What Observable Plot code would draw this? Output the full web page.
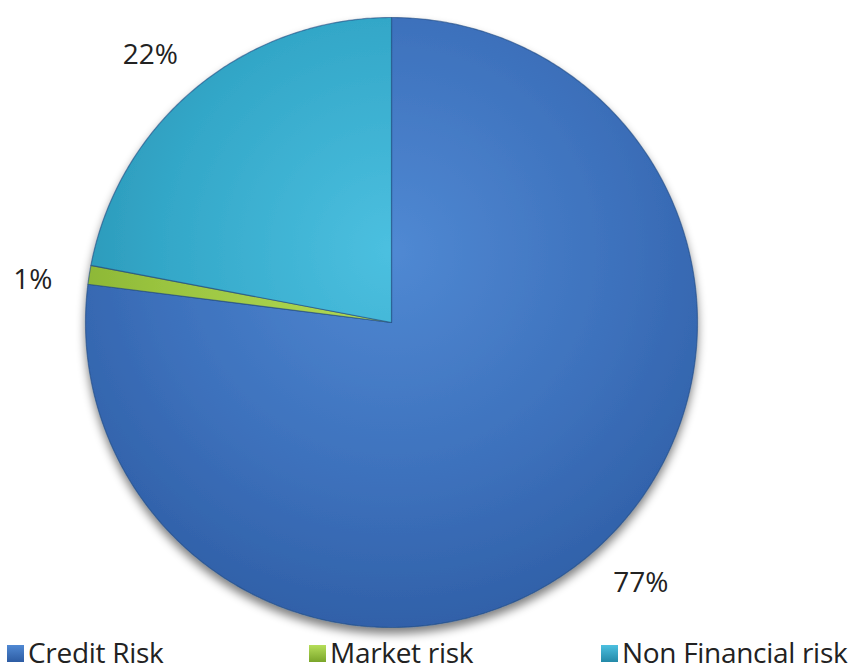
<!DOCTYPE html>
<html><head><meta charset="utf-8">
<script src="https://cdn.jsdelivr.net/npm/d3@7"></script>
<script src="https://cdn.jsdelivr.net/npm/@observablehq/plot@0.6"></script>
<style>
body{margin:0;background:#fff;font-family:"Open Sans",sans-serif;overflow:hidden;}
#legend{position:relative;height:37px;width:862px;font-family:"Open Sans",sans-serif;font-size:28px;line-height:34px;color:#222;}
.item{position:absolute;top:0px;display:flex;align-items:center;white-space:nowrap;letter-spacing:-0.3px}
.sw{width:17px;height:17px;margin-right:4px;margin-top:2px;}
</style></head><body>
<div id="chart"></div>
<div id="legend"></div>
<script>
const categories = ["Credit Risk", "Market risk", "Non Financial risk"];
const values = [77, 1, 22];
const labels = ["77%", "1%", "22%"];

const total = d3.sum(values);
const slices = [];
let acc = 0;
categories.forEach((c, i) => {
  const a0 = acc / total * 2 * Math.PI;
  acc += values[i];
  const a1 = acc / total * 2 * Math.PI;
  slices.push({c, i, a0, a1, v: values[i], label: labels[i]});
});
const pts = [];
slices.forEach(s => {
  pts.push({c: s.c, x: 0, y: 0});
  const n = Math.max(4, Math.ceil((s.a1 - s.a0) / 0.01));
  for (let k = 0; k <= n; k++) {
    const a = s.a0 + (s.a1 - s.a0) * k / n;
    pts.push({c: s.c, x: Math.sin(a), y: Math.cos(a)});
  }
  pts.push({c: s.c, x: 0, y: 0});
});
const labelPts = slices.map(s => {
  const m = (s.a0 + s.a1) / 2 - 0.04;
  return {label: s.label, x: 1.18 * Math.sin(m), y: 1.18 * Math.cos(m)};
});

const plot = Plot.plot({
  width: 862, height: 635,
  marginLeft: 85, marginRight: 165, marginTop: 17, marginBottom: 8,
  x: {domain: [-1, 1], axis: null},
  y: {domain: [-1, 1], axis: null},
  color: {domain: categories, range: categories.map((c, i) => `url(#g${i})`)},
  marks: [
    Plot.line(pts, {x: "x", y: "y", z: "c", fill: "c", stroke: "#1f4a80", strokeWidth: 1.2, strokeOpacity: 0.6, curve: "linear"}),
    Plot.text(labelPts, {x: "x", y: "y", text: "label", fontSize: 28, fill: "#222", fontFamily: "Open Sans"})
  ],
  style: {background: "#fff", overflow: "visible"}
});
const ns = "http://www.w3.org/2000/svg";
const defs = document.createElementNS(ns, "defs");
const stops = [["#5089d3", "#3d71bc", "#2d5ca3"], ["#b6de5a", "#9ac43f", "#7aa52a"], ["#4cc0e0", "#33a7c8", "#2389a8"]];
stops.forEach((st, i) => {
  const g = document.createElementNS(ns, "radialGradient");
  g.setAttribute("id", "g" + i);
  g.setAttribute("gradientUnits", "userSpaceOnUse");
  g.setAttribute("cx", 391); g.setAttribute("cy", 250); g.setAttribute("r", 420);
  [[0, st[0]], [0.55, st[1]], [1, st[2]]].forEach(([o, c]) => {
    const s = document.createElementNS(ns, "stop");
    s.setAttribute("offset", o); s.setAttribute("stop-color", c);
    g.appendChild(s);
  });
  defs.appendChild(g);
});
const f = document.createElementNS(ns, "filter");
f.setAttribute("id", "sh"); f.setAttribute("x", "-20%"); f.setAttribute("y", "-20%"); f.setAttribute("width", "140%"); f.setAttribute("height", "140%");
f.innerHTML = '<feGaussianBlur in="SourceAlpha" stdDeviation="5"/><feOffset dy="6" result="b"/><feComponentTransfer><feFuncA type="linear" slope="0.5"/></feComponentTransfer><feMerge><feMergeNode/><feMergeNode in="SourceGraphic"/></feMerge>';
defs.appendChild(f);
plot.insertBefore(defs, plot.firstChild);
const lineG = plot.querySelector("g[aria-label='line']");
if (lineG) lineG.setAttribute("filter", "url(#sh)");
document.getElementById("chart").appendChild(plot);

const legend = document.getElementById("legend");
const lx = [7, 309, 601];
categories.forEach((c, i) => {
  const it = document.createElement("div");
  it.className = "item";
  it.style.left = lx[i] + "px";
  it.innerHTML = `<div class="sw" style="background:linear-gradient(${stops[i][0]},${stops[i][2]})"></div><span>${c}</span>`;
  legend.appendChild(it);
});
</script>
</body></html>
